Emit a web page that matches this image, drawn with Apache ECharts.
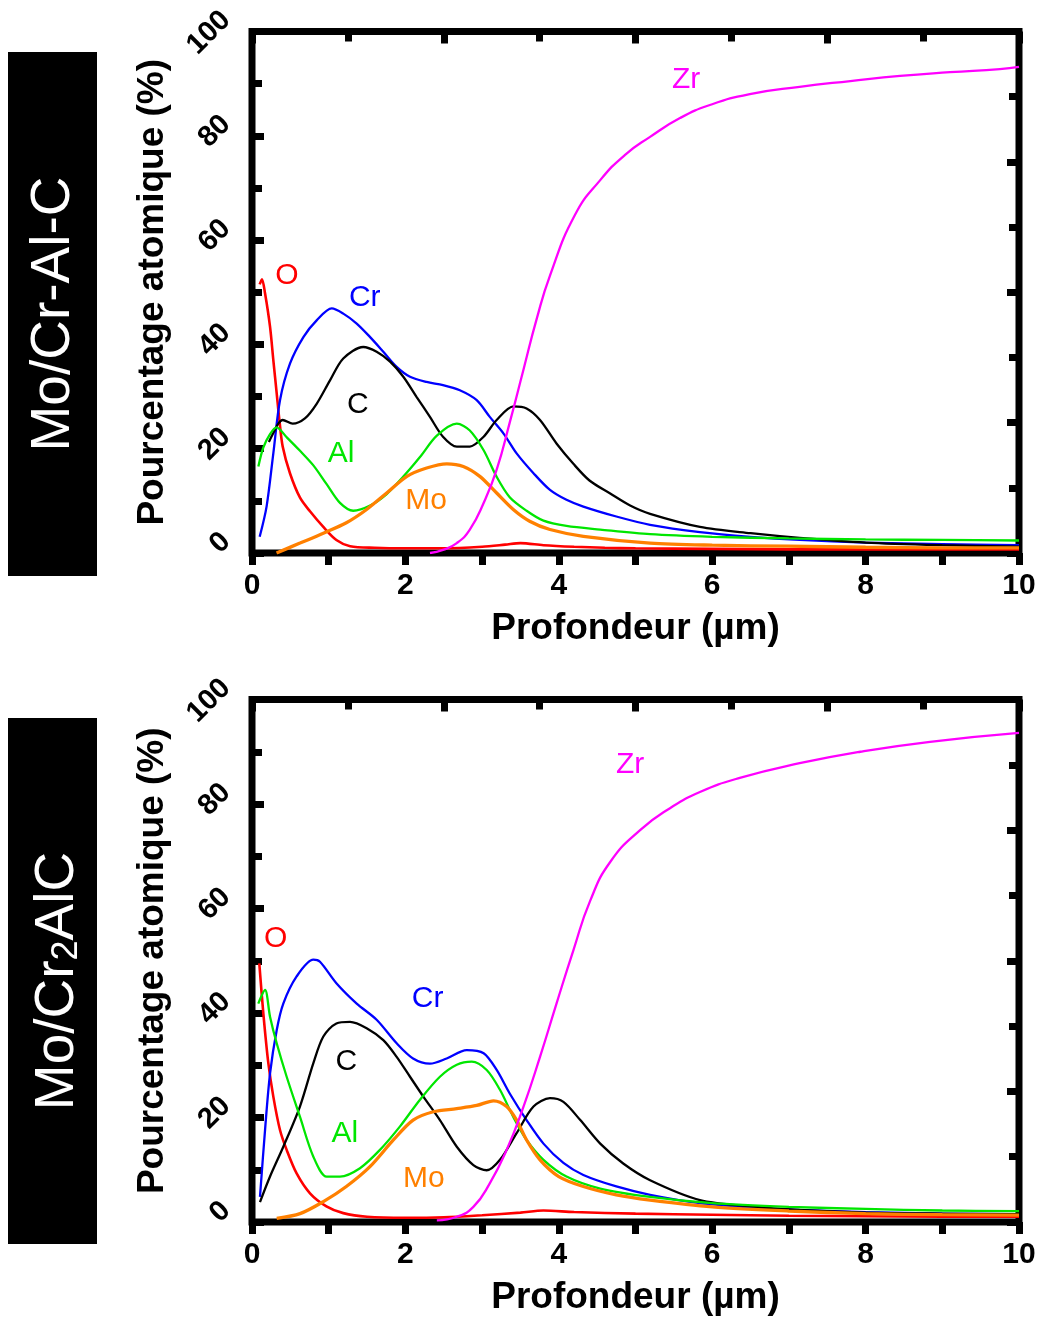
<!DOCTYPE html>
<html><head><meta charset="utf-8">
<script src="https://cdn.jsdelivr.net/npm/echarts@6/dist/echarts.min.js"></script>
<style>html,body{margin:0;padding:0;background:#fff}#c{width:1039px;height:1317px}</style>
</head><body><div id="c"></div>
<script>
// ---------- DATA (depth in µm, atomic percentage) ----------
// Panel 1 : Mo/Cr-Al-C
const p1_O_depth  = [0.10,0.13,0.17,0.235,0.278,0.322,0.357,0.40,0.495,0.626,0.756,0.93,1.10,1.28,1.6,2.0,2.5,3.0,3.3,3.5,3.8,4.2,4.6,5.0,6.0,7.0,8.0,9.0,10.0];
const p1_O_pct    = [51.5,52.5,49.8,43.4,37.0,30.6,25.5,20.4,15.3,10.6,8.0,5.0,2.5,1.3,1.0,0.9,0.9,1.2,1.6,1.9,1.5,1.2,1.0,0.9,0.8,0.7,0.7,0.7,0.7];
const p1_Cr_depth = [0.10,0.19,0.278,0.365,0.495,0.67,0.843,1.04,1.19,1.365,1.54,1.712,1.886,2.06,2.277,2.49,2.71,2.93,3.10,3.28,3.45,3.67,3.885,4.1,4.32,4.75,5.19,5.84,6.5,7.14,8.0,9.0,10.0];
const p1_Cr_pct   = [3.1,8.9,19.1,29.3,36.3,41.4,44.6,46.9,45.9,44.0,41.4,38.6,35.7,33.8,32.8,32.2,31.2,29.3,26.1,22.9,19.1,15.3,12.1,10.2,8.9,7.0,5.4,4.0,3.1,2.5,2.0,1.7,1.5];
const p1_C_depth  = [0.22,0.278,0.343,0.4,0.53,0.69,0.843,1.017,1.19,1.45,1.625,1.8,1.973,2.147,2.32,2.49,2.67,2.84,3.02,3.19,3.41,3.58,3.755,3.97,4.19,4.4,4.67,4.93,5.19,5.84,6.5,7.14,8.0,9.0,10.0];
const p1_C_pct    = [21.3,23.0,24.8,25.5,24.8,25.8,28.6,33.1,37.3,39.5,38.6,36.7,33.8,29.9,26.1,22.3,20.4,20.4,22.3,25.5,28.1,27.7,25.5,21.0,17.1,13.9,11.4,9.1,7.5,5.0,3.8,2.9,2.0,1.5,1.2];
const p1_Al_depth = [0.083,0.147,0.235,0.32,0.452,0.626,0.8,0.973,1.147,1.32,1.54,1.756,1.97,2.19,2.41,2.67,2.84,3.02,3.19,3.36,3.58,3.8,4.1,4.54,5.19,6.0,7.0,8.0,9.0,10.0];
const p1_Al_pct   = [16.6,20.2,22.8,24.1,22.2,19.6,16.8,13.2,9.6,8.1,9.1,11.3,14.6,18.4,22.5,24.8,23.5,19.7,14.6,10.7,8.1,6.2,5.2,4.5,3.6,3.1,2.8,2.6,2.5,2.4];
const p1_Mo_depth = [0.32,0.626,0.93,1.23,1.49,1.756,2.02,2.277,2.54,2.755,2.97,3.19,3.41,3.62,3.885,4.32,5.19,6.0,7.0,8.0,9.0,10.0];
const p1_Mo_pct   = [0.0,1.9,3.8,5.8,8.3,11.5,14.7,16.3,17.1,16.6,14.7,11.5,8.3,6.1,4.5,3.2,1.9,1.5,1.3,1.1,1.0,1.0];
const p1_Zr_depth = [2.32,2.49,2.67,2.84,3.02,3.19,3.36,3.54,3.71,3.885,4.21,4.54,4.86,5.19,5.58,5.97,6.49,7.14,7.80,8.45,9.10,9.75,10.0];
const p1_Zr_pct   = [0.0,0.6,1.9,4.5,9.6,16.0,25.0,35.2,44.8,53.2,64.8,71.5,76.3,79.8,83.4,85.9,88.0,89.4,90.5,91.5,92.2,92.8,93.2];

// Panel 2 : Mo/Cr2AlC
const p2_O_depth  = [0.095,0.148,0.213,0.278,0.365,0.452,0.582,0.756,0.97,1.19,1.5,2.0,2.5,3.0,3.5,3.8,4.2,5.0,6.0,7.0,8.0,9.0,10.0];
const p2_O_pct    = [49.5,39.9,30.4,24.0,17.6,13.8,9.3,5.5,3.0,1.7,1.0,0.8,0.9,1.3,1.8,2.2,1.9,1.6,1.4,1.2,1.1,1.0,1.0];
const p2_Cr_depth = [0.104,0.17,0.235,0.322,0.408,0.582,0.8,0.886,1.1,1.365,1.625,1.886,2.1,2.32,2.538,2.8,3.02,3.19,3.36,3.58,3.8,4.06,4.32,4.75,5.19,5.84,6.5,7.14,8.0,9.0,10.0];
const p2_Cr_pct   = [4.8,17.6,28.4,36.7,41.8,47.0,50.2,49.8,45.7,41.8,38.7,34.2,31.3,30.3,31.3,32.9,32.3,29.1,24.6,19.5,15.0,11.3,9.0,6.8,5.2,3.6,2.8,2.3,1.9,1.6,1.5];
const p2_C_depth  = [0.104,0.235,0.408,0.625,0.8,0.93,1.1,1.278,1.495,1.712,1.886,2.06,2.234,2.45,2.67,2.886,3.06,3.233,3.45,3.67,3.885,4.06,4.28,4.54,4.84,5.19,5.84,6.5,7.14,8.0,9.0,10.0];
const p2_C_pct    = [3.8,8.7,14.4,22.1,30.4,35.5,38.0,38.3,37.1,34.8,31.6,27.8,24.0,19.5,14.4,10.9,9.9,11.9,17.0,22.1,23.7,23.0,19.5,15.0,11.2,8.0,4.2,3.0,2.3,1.8,1.6,1.5];
const p2_Al_depth = [0.082,0.17,0.235,0.322,0.452,0.626,0.8,0.973,1.147,1.408,1.668,1.93,2.19,2.45,2.67,2.865,3.06,3.233,3.407,3.58,3.8,4.1,4.54,5.19,6.0,7.0,8.0,9.0,10.0];
const p2_Al_pct   = [41.8,44.4,39.3,34.2,27.8,20.1,12.5,8.7,8.7,10.3,13.8,18.3,23.4,27.8,30.1,30.7,29.1,25.3,20.1,15.7,11.9,8.7,6.4,4.8,3.6,2.9,2.5,2.2,2.1];
const p2_Mo_depth = [0.322,0.626,0.93,1.23,1.538,1.843,2.1,2.364,2.67,2.93,3.15,3.32,3.45,3.58,3.755,4.0,4.32,4.75,5.19,6.0,7.0,8.0,9.0,10.0];
const p2_Mo_pct   = [0.7,1.6,3.9,6.8,10.6,15.7,19.5,21.1,21.7,22.3,23.2,22.1,19.5,15.7,11.9,8.7,6.8,5.2,4.2,2.9,2.1,1.6,1.4,1.3];
const p2_Zr_depth = [2.41,2.67,2.886,3.1,3.32,3.54,3.755,3.97,4.19,4.41,4.67,5.06,5.45,5.84,6.36,7.14,7.93,8.84,10.0];
const p2_Zr_pct   = [0.3,1.0,2.9,7.4,13.8,22.1,31.6,41.8,52.0,61.5,68.9,75.0,79.2,82.3,85.0,87.8,90.0,91.9,93.6];

const elements = ['O','Cr','C','Al','Mo','Zr'];
const xTickLabels = ['0','2','4','6','8','10'];
const panelTitles = ['Mo/Cr-Al-C', 'Mo/Cr2AlC'];

// ---------- STYLE / LAYOUT ----------
const FONT = '"Liberation Sans", Arial, Helvetica, sans-serif';
const colors = {O:'#ff0000', Cr:'#0000ff', C:'#000000', Al:'#00e600', Mo:'#ff8000', Zr:'#ff00ff'};
const widths = {O:2.6, Cr:2.3, C:2.3, Al:2.3, Mo:3.3, Zr:2.3};
const smoothness = {O:0.3, Cr:0.3, C:0.3, Al:0.3, Mo:0.3, Zr:0.5};
// label anchor positions (data coordinates) for the element names
const labelPos = [
  {O:[0.456,53.1], Cr:[1.47,48.9], C:[1.38,28.4], Al:[1.16,19.0], Mo:[2.27,10.0], Zr:[5.66,90.7]},
  {O:[0.31,54.3], Cr:[2.29,42.7], C:[1.23,30.6], Al:[1.21,16.8], Mo:[2.24,8.2], Zr:[4.93,87.5]}
];
const grids = [
  {left:252, top:31.5, width:767, height:521.5},
  {left:252, top:699.5, width:767, height:522.5}
];

const zip = (a,b) => a.map((x,i)=>[x,b[i]]);
const dataSets = [
  {O:zip(p1_O_depth,p1_O_pct), Cr:zip(p1_Cr_depth,p1_Cr_pct), C:zip(p1_C_depth,p1_C_pct), Al:zip(p1_Al_depth,p1_Al_pct), Mo:zip(p1_Mo_depth,p1_Mo_pct), Zr:zip(p1_Zr_depth,p1_Zr_pct)},
  {O:zip(p2_O_depth,p2_O_pct), Cr:zip(p2_Cr_depth,p2_Cr_pct), C:zip(p2_C_depth,p2_C_pct), Al:zip(p2_Al_depth,p2_Al_pct), Mo:zip(p2_Mo_depth,p2_Mo_pct), Zr:zip(p2_Zr_depth,p2_Zr_pct)}
];

const tickStyle = {color:'#000', width:7};
const noLine = {show:false, onZero:false};
const xAxes = [], yAxes = [], series = [];
grids.forEach((g, gi) => {
  xAxes.push({
    gridIndex: gi, type:'value', min:0, max:10, interval:1, position:'bottom',
    axisLine:noLine, splitLine:{show:false},
    axisTick:{show:true, inside:false, length:12, lineStyle:tickStyle},
    axisLabel:{margin:18, fontSize:30, fontWeight:'bold', color:'#000', fontFamily:FONT,
      formatter: v => xTickLabels.includes(String(v)) ? String(v) : ''},
    name:'Profondeur (µm)', nameLocation:'middle', nameGap:57,
    nameTextStyle:{fontSize:37, fontWeight:'bold', color:'#000', fontFamily:FONT}
  });
  xAxes.push({
    gridIndex: gi, type:'value', min:0, max:8, interval:2, position:'top',
    axisLine:noLine, splitLine:{show:false}, axisLabel:{show:false},
    axisTick:{show:true, inside:true, length:12, lineStyle:tickStyle},
    minorTick:{show:true, splitNumber:2, length:10, lineStyle:tickStyle}
  });
  yAxes.push({
    gridIndex: gi, type:'value', min:0, max:100, interval:20, position:'left',
    axisLine:noLine, splitLine:{show:false},
    axisTick:{show:true, inside:true, length:12, lineStyle:tickStyle},
    minorTick:{show:true, splitNumber:2, length:10, lineStyle:tickStyle},
    axisLabel:{rotate:45, margin:10, padding:[0,0,8,0], align:'right', verticalAlign:'bottom', fontSize:29, fontWeight:'bold', color:'#000', fontFamily:FONT},
    name:'Pourcentage atomique (%)', nameLocation:'middle', nameGap:74, nameRotate:90,
    nameTextStyle:{fontSize:37, fontWeight:'bold', color:'#000', fontFamily:FONT}
  });
  yAxes.push({
    gridIndex: gi, type:'value', min:0, max:8, interval:2, position:'right',
    axisLine:noLine, splitLine:{show:false}, axisLabel:{show:false},
    axisTick:{show:true, inside:true, length:12, lineStyle:tickStyle},
    minorTick:{show:true, splitNumber:2, length:10, lineStyle:tickStyle}
  });
  elements.forEach(el => {
    series.push({
      type:'line', name: el + (gi+1), xAxisIndex: gi*2, yAxisIndex: gi*2,
      data: dataSets[gi][el], showSymbol:false, symbol:'none',
      smooth:smoothness[el],
      lineStyle:{color:colors[el], width:widths[el]},
      markPoint:{
        symbol:'rect', symbolSize:1, itemStyle:{color:'rgba(0,0,0,0)'},
        label:{show:true, position:'inside', formatter: el, color:colors[el], fontSize:30, fontFamily:FONT},
        data:[{coord: labelPos[gi][el]}]
      }
    });
  });
});

const boxes = [{y:52, h:524}, {y:718, h:526}];
const graphic = [];
boxes.forEach((b, i) => {
  graphic.push({type:'rect', shape:{x:8, y:b.y, width:89, height:b.h}, style:{fill:'#000'}, z:10});
  graphic.push({
    type:'text', x:54, y:b.y + b.h/2, rotation: Math.PI/2, z:11,
    style: i === 0 ? {
      text: panelTitles[0], fill:'#fff', font:'55px ' + FONT, align:'center', verticalAlign:'middle'
    } : {
      text: '{a|Mo/Cr}{s|2}{a|AlC}', fill:'#fff', align:'center', verticalAlign:'middle',
      rich:{ a:{fontSize:55, fontFamily:FONT, fill:'#fff', lineHeight:62, verticalAlign:'bottom'},
             s:{fontSize:36, fontFamily:FONT, fill:'#fff', lineHeight:50, verticalAlign:'bottom'} }
    }
  });
});

const chart = echarts.init(document.getElementById('c'), null, {renderer:'canvas'});
chart.setOption({
  animation:false,
  backgroundColor:'#fff',
  grid: grids.map(g => Object.assign({show:true, borderColor:'#000', borderWidth:7, backgroundColor:'transparent', containLabel:false, outerBoundsMode:'none'}, g)),
  xAxis: xAxes, yAxis: yAxes, series, graphic
});
</script></body></html>
